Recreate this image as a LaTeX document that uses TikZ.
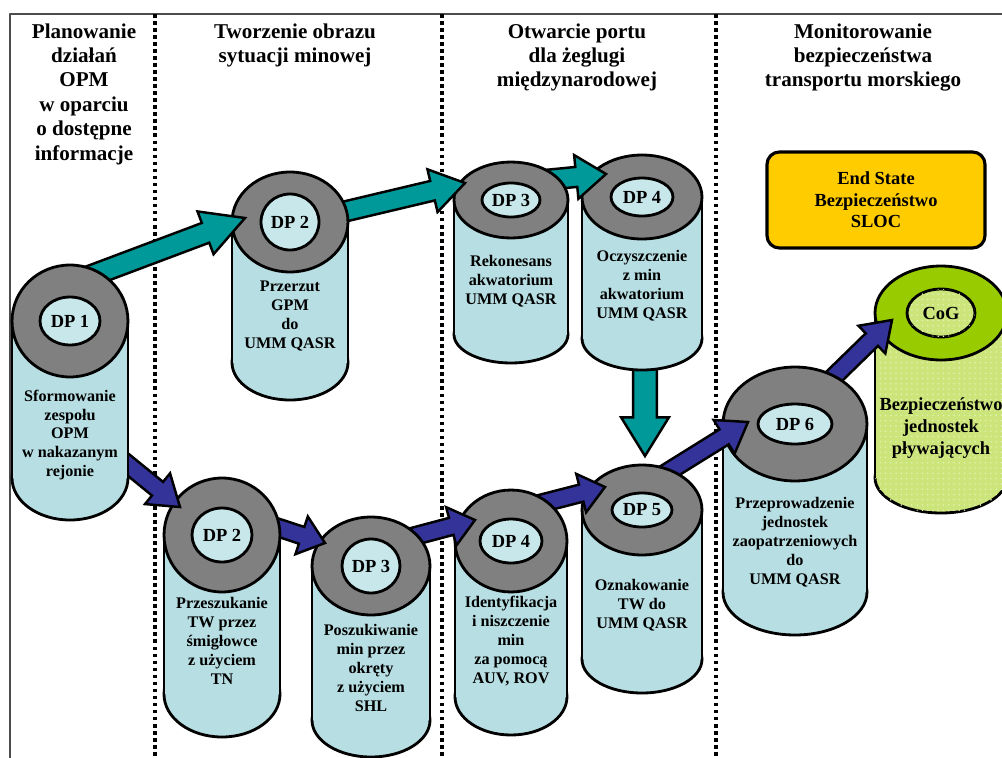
\documentclass[tikz,border=0pt]{standalone}
\usepackage{fontspec}
\setmainfont{Liberation Serif}
\usetikzlibrary{calc,patterns,shapes.geometric,positioning}

\definecolor{canblue}{HTML}{B7DEE2}
\definecolor{canhole}{HTML}{C8E7EA}
\definecolor{canring}{HTML}{808080}
\definecolor{arrteal}{HTML}{009999}
\definecolor{arrblue}{HTML}{333399}
\definecolor{endfill}{HTML}{FFCC00}
\definecolor{cogring}{HTML}{99CC00}
\definecolor{cogbody}{HTML}{CCE57A}
\definecolor{cogdot}{HTML}{E4F1B0}

\newcommand{\hdrfont}{\fontsize{12}{13.9}\selectfont\bfseries}
\newcommand{\txtfont}{\fontsize{9.2}{10.8}\selectfont\bfseries}
\newcommand{\dpfont}{\fontsize{10.5}{12.3}\selectfont\bfseries}

\tikzset{
  canline/.style={draw=black, line width=1.6pt},
  canfill/.style={fill=canblue},
  ringfill/.style={fill=canring},
  holefill/.style={fill=canhole},
  cantext/.style={align=center, font=\txtfont, inner sep=0pt},
  header/.style={align=center, font=\hdrfont, inner sep=0pt},
  tealarrow/.style={draw=black, line width=1.4pt, line join=miter, fill=arrteal},
  bluearrow/.style={draw=black, line width=1.4pt, line join=miter, fill=arrblue},
  sepline/.style={line width=2.2pt, dash pattern=on 2.1pt off 1.9pt},
  frameline/.style={draw=black!70, line width=1.1pt},
  endbox/.style={draw=black, line width=1.8pt, fill=endfill, rounded corners=7pt,
    minimum width=4.36cm, minimum height=1.92cm, align=center, font=\dpfont}
}

% DP can: #1 top centre, #2 rx, #3 ry, #4 depth, #5 hole rx, #6 hole ry, #7 name, #8 label
\newcommand{\dpcan}[8]{%
  \draw[canline, canfill] ($(#1)+(0,{#4-0.75*#3})$) ellipse [x radius=#2, y radius={0.75*#3}];
  \fill[canfill] ($(#1)+(-#2,0)$) rectangle ($(#1)+(#2,{#4-0.75*#3})$);
  \draw[canline] ($(#1)+(-#2,0)$) -- ($(#1)+(-#2,{#4-0.75*#3})$)
                 ($(#1)+(#2,0)$) -- ($(#1)+(#2,{#4-0.75*#3})$);
  \node[ellipse, canline, ringfill, inner sep=0pt, minimum width={#2*0.04cm},
        minimum height={#3*0.04cm}] (#7ring) at (#1) {};
  \node[ellipse, canline, holefill, inner sep=0pt, font=\dpfont, minimum width={#5*0.04cm},
        minimum height={#6*0.04cm}] (#7) at (#1) {#8};
}

% block arrow: #1 style, #2 tail, #3 tip, #4 shaft half width, #5 head half width, #6 head length
\newcommand{\fatarrow}[6]{%
  \coordinate (fas) at (#2);
  \coordinate (fat) at (#3);
  \coordinate (fab) at ($(fat)!#6!(fas)$);
  \draw[#1] ($(fas)!#4!90:(fat)$) -- ($(fab)!#4!90:(fat)$) -- ($(fab)!#5!90:(fat)$)
    -- (fat) -- ($(fab)!#5!-90:(fat)$) -- ($(fab)!#4!-90:(fat)$) -- ($(fas)!#4!-90:(fat)$) -- cycle;
}

\begin{document}
\begin{tikzpicture}[x=0.02cm, y=-0.02cm, line cap=butt, line join=round]
\useasboundingbox (0,0) rectangle (1002,758);
\clip (0,0) rectangle (1002,758);

% top centres of the cans
\coordinate (c1) at (70,321);
\coordinate (c2t) at (290,222);
\coordinate (c3t) at (511,200);
\coordinate (c4t) at (642,197);
\coordinate (c2b) at (222,535);
\coordinate (c3b) at (371,566);
\coordinate (c4b) at (511,541);
\coordinate (c5) at (642,510);
\coordinate (c6) at (795,424);
\coordinate (cg) at (941,313);

% frame and phases
\draw[frameline] (10,758) -- (10,14) -- (1002,14);
\foreach \x in {155,442,716}
  \draw[sepline] (\x,14) -- (\x,758);

\node[header] (h1) at (84,94) {Planowanie\\działań\\OPM\\w oparciu\\o dostępne\\informacje};
\node[header] (h2) at (295,45.5) {Tworzenie obrazu\\sytuacji minowej};
\node[header] (h3) at (577,57.5) {Otwarcie portu\\dla żeglugi\\międzynarodowej};
\node[header] (h4) at (863,57.5) {Monitorowanie\\bezpieczeństwa\\transportu morskiego};

\node[endbox] (endstate) at (876,200) {End State\\Bezpieczeństwo\\SLOC};

% centre of gravity
\begin{scope}[canfill/.style={fill=cogbody, postaction={pattern=dots, pattern color=cogdot}},
  ringfill/.style={fill=cogring},
  holefill/.style={fill=cogbody, postaction={pattern=dots, pattern color=cogdot}}]
\dpcan{cg}{66}{47}{200}{34}{24}{cog}{CoG}
\end{scope}
\node[cantext, font=\dpfont] (cogtxt) at (941,428) {Bezpieczeństwo\\jednostek\\pływających};

% drawn from the end back to DP 1
\fatarrow{bluearrow}{$(c6)+(20,-29)$}{$(cg)+(-49,7)$}{5pt}{11pt}{16pt}
\dpcan{c6}{72}{57}{211}{37}{20}{dp6}{DP 6}
\node[cantext] (dp6txt) at (795,542) {Przeprowadzenie\\jednostek\\zaopatrzeniowych\\do\\UMM QASR};

\fatarrow{bluearrow}{$(c5)+(16,-32)$}{$(c6)+(-47,-2)$}{5pt}{11.3pt}{16pt}
\dpcan{c5}{60}{45}{183}{30}{17}{dp5}{DP 5}
\node[cantext] (dp5txt) at (642,605) {Oznakowanie\\TW do\\UMM QASR};

\fatarrow{tealarrow}{$(c4t)+(3,143)$}{$(c5)+(3,-54)$}{6.8pt}{13.6pt}{22pt}
\fatarrow{bluearrow}{$(c4b)+(24,-36)$}{$(c5)+(-37,-23)$}{5pt}{11.3pt}{14pt}
\dpcan{c4t}{60}{42}{173}{31}{19}{dp4t}{DP 4}
\node[cantext] (dp4ttxt) at (642,286) {Oczyszczenie\\z min\\akwatorium\\UMM QASR};
\dpcan{c4b}{56}{51}{194}{31}{22}{dp4b}{DP 4}
\node[cantext] (dp4btxt) at (511,641) {Identyfikacja\\i niszczenie\\min\\za pomocą\\AUV, ROV};

\fatarrow{tealarrow}{$(c3t)+(34,-20)$}{$(c4t)+(-36,-23)$}{5.7pt}{12.5pt}{17pt}
\fatarrow{bluearrow}{$(c3b)+(29,-26)$}{$(c4b)+(-36,-21)$}{5pt}{11.3pt}{14pt}
\dpcan{c3t}{57}{38}{163}{29}{17}{dp3t}{DP 3}
\node[cantext] (dp3ttxt) at (511,281) {Rekonesans\\akwatorium\\UMM QASR};
\dpcan{c3b}{59}{49}{191}{29}{27}{dp3b}{DP 3}
\node[cantext] (dp3btxt) at (371,668) {Poszukiwanie\\min przez\\okręty\\z użyciem\\SHL};

\fatarrow{tealarrow}{$(c2t)+(40,-7)$}{$(c3t)+(-46,-17)$}{5.7pt}{12.5pt}{19pt}
\fatarrow{bluearrow}{$(c2b)+(33,-15)$}{$(c3b)+(-46,-23)$}{5pt}{11.3pt}{14pt}
\dpcan{c2t}{58}{50}{178}{29}{28}{dp2t}{DP 2}
\node[cantext] (dp2ttxt) at (290,316) {Przerzut\\GPM\\do\\UMM QASR};
\dpcan{c2b}{58}{57}{202}{30}{27}{dp2b}{DP 2}
\node[cantext] (dp2btxt) at (222,641) {Przeszukanie\\TW przez\\śmigłowce\\z użyciem\\TN};

\fatarrow{tealarrow}{$(c1)+(10,-41)$}{$(c2t)+(-45,-4)$}{6pt}{13pt}{24pt}
\fatarrow{bluearrow}{$(c1)+(40,129)$}{$(c2b)+(-42,-28)$}{5pt}{11.3pt}{16.5pt}
\dpcan{c1}{58}{56}{199}{30}{24}{dp1}{DP 1}
\node[cantext] (dp1txt) at (70,435) {Sformowanie\\zespołu\\OPM\\w nakazanym\\rejonie};
\end{tikzpicture}
\end{document}
